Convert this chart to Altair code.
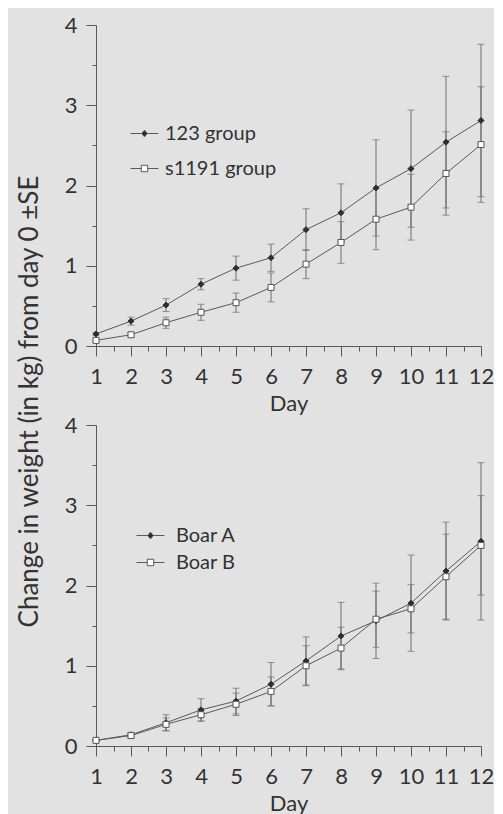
import altair as alt
import pandas as pd

days = list(range(1, 13))

top_names = ["123 group", "s1191 group"]
top_a_mean = [0.15, 0.31, 0.51, 0.77, 0.97, 1.10, 1.45, 1.66, 1.97, 2.21, 2.54, 2.81]
top_a_se = [0.02, 0.05, 0.08, 0.07, 0.15, 0.17, 0.26, 0.36, 0.60, 0.73, 0.82, 0.95]
top_b_mean = [0.07, 0.14, 0.29, 0.42, 0.54, 0.73, 1.02, 1.29, 1.58, 1.73, 2.15, 2.51]
top_b_se = [0.02, 0.03, 0.07, 0.10, 0.12, 0.18, 0.18, 0.26, 0.38, 0.41, 0.52, 0.72]

bot_names = ["Boar A", "Boar B"]
bot_a_mean = [0.07, 0.14, 0.29, 0.45, 0.56, 0.77, 1.06, 1.37, 1.56, 1.78, 2.18, 2.55]
bot_a_se = [0.01, 0.03, 0.10, 0.14, 0.16, 0.27, 0.30, 0.42, 0.47, 0.60, 0.61, 0.98]
bot_b_mean = [0.07, 0.13, 0.27, 0.39, 0.52, 0.68, 1.00, 1.22, 1.58, 1.71, 2.11, 2.50]
bot_b_se = [0.01, 0.03, 0.08, 0.08, 0.14, 0.18, 0.25, 0.26, 0.35, 0.30, 0.53, 0.62]

x_ticks = [1 + 0.5 * i for i in range(23)]
y_ticks = [0.5 * i for i in range(9)]

FONT = "Lato"
TXT = "#333333"
LINE = "#5a5a5a"
ERR = "#6e6e6e"
BG = "#e2e2e2"

DIAMOND_LEG = "M-1,0H-0.2M0.2,0H1M0,-0.24L0.2,0L0,0.24L-0.2,0Z"
SQUARE_LEG = "M-1,0H-0.23M0.23,0H1M-0.23,-0.23H0.23V0.23H-0.23Z"

LABEL_EXPR = "datum.value % 1 == 0 ? format(datum.value, 'd') : ''"


def build_df(names, a_mean, a_se, b_mean, b_se):
    rows = []
    for name, means, ses in ((names[0], a_mean, a_se), (names[1], b_mean, b_se)):
        for d, m, s in zip(days, means, ses):
            rows.append({"day": d, "value": m, "lo": m - s, "hi": m + s, "series": name})
    return pd.DataFrame(rows)


def panel(names, a_mean, a_se, b_mean, b_se, leg_x, leg_y, row_pad, lab_off, ytitle):
    df = build_df(names, a_mean, a_se, b_mean, b_se)
    base = alt.Chart(df)

    x_axis = alt.Axis(
        values=x_ticks,
        tickCount=len(x_ticks),
        labelExpr=LABEL_EXPR,
        tickSize={"condition": {"test": "datum.value % 1 != 0", "value": 5}, "value": 10},
        grid=False,
        title="Day",
        labelFontSize=22,
        titleFontSize=22,
        titleFontWeight="normal",
        labelFont=FONT,
        titleFont=FONT,
        labelColor=TXT,
        titleColor=TXT,
        labelPadding=10,
        titlePadding=6,
        domainColor=LINE,
        tickColor=LINE,
        labelFlush=False,
        labelOverlap=False,
        labelBound=False,
    )
    y_kwargs = dict(
        values=y_ticks,
        tickCount=len(y_ticks),
        labelExpr=LABEL_EXPR,
        tickSize={"condition": {"test": "datum.value % 1 != 0", "value": 4}, "value": 10},
        grid=False,
        labelFontSize=22,
        labelFont=FONT,
        labelColor=TXT,
        labelPadding=9,
        domainColor=LINE,
        tickColor=LINE,
        labelFlush=False,
        labelOverlap=False,
        labelBound=False,
    )
    if ytitle:
        y_axis = alt.Axis(
            title="Change in weight (in kg) from day 0 \u00b1SE",
            titleFontSize=26,
            titleFont=FONT,
            titleFontWeight="normal",
            titleColor=TXT,
            titleAngle=270,
            titleAlign="center",
            titleBaseline="middle",
            titleX=-67,
            titleY=376,
            **y_kwargs,
        )
    else:
        y_axis = alt.Axis(title=None, **y_kwargs)

    xs = alt.Scale(domain=[1, 12], nice=False, zero=False)
    ys = alt.Scale(domain=[0, 4], nice=False)
    X = alt.X("day:Q", scale=xs, axis=x_axis)
    Y = alt.Y("value:Q", scale=ys, axis=y_axis)

    lines = base.mark_line(color=LINE, strokeWidth=1).encode(x=X, y=Y, detail="series:N")
    rules = base.mark_rule(color=ERR, strokeWidth=1).encode(
        x="day:Q", y=alt.Y("lo:Q", scale=ys), y2="hi:Q"
    )
    cap_lo = base.mark_tick(orient="horizontal", size=7, thickness=1, color=ERR).encode(
        x="day:Q", y=alt.Y("lo:Q", scale=ys)
    )
    cap_hi = base.mark_tick(orient="horizontal", size=7, thickness=1, color=ERR).encode(
        x="day:Q", y=alt.Y("hi:Q", scale=ys)
    )
    points = base.mark_point(filled=True, size=36, strokeWidth=1, opacity=1).encode(
        x=X,
        y=Y,
        shape=alt.Shape("series:N", scale=alt.Scale(domain=names, range=["diamond", "square"]), legend=None),
        fill=alt.Fill("series:N", scale=alt.Scale(domain=names, range=["#2e2e2e", "#ffffff"]), legend=None),
        stroke=alt.Stroke("series:N", scale=alt.Scale(domain=names, range=["#2e2e2e", "#555555"]), legend=None),
    )
    leg = alt.Legend(
        orient="none",
        legendX=leg_x,
        legendY=leg_y,
        title=None,
        labelFontSize=20,
        labelFont=FONT,
        labelColor=TXT,
        symbolSize=784,
        symbolStrokeWidth=1,
        rowPadding=row_pad,
        labelOffset=lab_off,
        padding=0,
    )
    legend_layer = base.mark_point(filled=True, opacity=1, strokeWidth=1).encode(
        shape=alt.Shape("series:N", scale=alt.Scale(domain=names, range=[DIAMOND_LEG, SQUARE_LEG]), legend=leg),
        fill=alt.Fill("series:N", scale=alt.Scale(domain=names, range=["#2e2e2e", "#ffffff"]), legend=leg),
        stroke=alt.Stroke("series:N", scale=alt.Scale(domain=names, range=[LINE, LINE]), legend=leg),
    ).transform_filter("false")

    return (
        alt.layer(lines, rules, cap_lo, cap_hi, points, legend_layer)
        .resolve_scale(shape="independent", fill="independent", stroke="independent")
        .properties(width=385, height=321)
    )


top = panel(top_names, top_a_mean, top_a_se, top_b_mean, top_b_se, 34, 94, 10, 6, True)
bottom = panel(bot_names, bot_a_mean, bot_a_se, bot_b_mean, bot_b_se, 40, 96, 2, 11, False)

chart = (
    alt.vconcat(top, bottom, spacing=79, bounds="flush")
    .properties(background=BG, padding={"left": 7, "top": 6, "right": 0, "bottom": 0})
    .configure_view(stroke=None)
    .configure_axis(labelOverlap=False, labelBound=False)
)

chart.save("out.html", embed_options={"renderer": "svg", "actions": False})
